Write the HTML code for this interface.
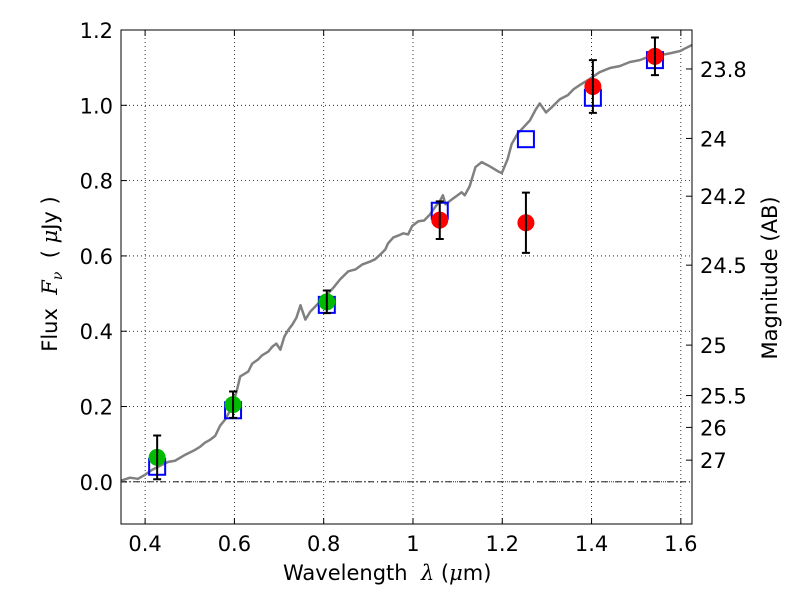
<!DOCTYPE html>
<html><head><meta charset="utf-8"><style>body{margin:0;background:#fff}svg{display:block}text{font-family:"DejaVu Sans","Liberation Sans",sans-serif}</style></head>
<body>
<svg id="chart" width="800" height="600"></svg>
<script>
const specX=[0.346,0.366,0.384,0.4,0.416,0.434,0.452,0.467,0.49,0.512,0.523,0.534,0.546,0.557,0.568,0.579,0.595,0.606,0.613,0.62,0.631,0.64,0.653,0.662,0.676,0.685,0.694,0.703,0.712,0.721,0.73,0.739,0.748,0.759,0.77,0.788,0.806,0.822,0.837,0.855,0.871,0.886,0.904,0.915,0.927,0.938,0.944,0.956,0.967,0.978,0.989,0.998,1.012,1.025,1.038,1.051,1.06,1.067,1.073,1.087,1.1,1.109,1.116,1.127,1.14,1.154,1.172,1.19,1.199,1.212,1.221,1.235,1.244,1.262,1.275,1.284,1.298,1.311,1.329,1.347,1.36,1.374,1.396,1.418,1.441,1.463,1.486,1.508,1.53,1.553,1.575,1.598,1.611,1.625];
const specY=[0.003,0.011,0.008,0.019,0.032,0.043,0.053,0.056,0.072,0.085,0.093,0.104,0.112,0.122,0.149,0.165,0.199,0.245,0.28,0.285,0.293,0.314,0.325,0.336,0.346,0.359,0.367,0.351,0.386,0.404,0.418,0.436,0.469,0.431,0.452,0.474,0.495,0.516,0.538,0.559,0.564,0.577,0.585,0.591,0.604,0.617,0.633,0.649,0.654,0.66,0.657,0.679,0.692,0.694,0.71,0.732,0.745,0.761,0.737,0.75,0.761,0.769,0.761,0.785,0.836,0.849,0.838,0.825,0.82,0.857,0.897,0.926,0.937,0.96,0.989,1.005,0.981,0.995,1.016,1.027,1.043,1.054,1.07,1.088,1.099,1.104,1.115,1.12,1.13,1.133,1.138,1.144,1.152,1.16];
const obsX=[0.427,0.597,0.807,1.06,1.253,1.403,1.542];
const obsY=[0.065,0.205,0.478,0.695,0.688,1.05,1.13];
const obsErr=[0.058,0.035,0.03,0.05,0.08,0.07,0.05];
const obsColor=["#00bb00","#00bb00","#00bb00","red","red","red","red"];
const modelY=[0.04,0.19,0.47,0.72,0.91,1.02,1.12];
const xTicks=[0.4,0.6,0.8,1.0,1.2,1.4,1.6];
const xTickLabels=["0.4","0.6","0.8","1","1.2","1.4","1.6"];
const yTicks=[0,0.2,0.4,0.6,0.8,1.0,1.2];
const yTickLabels=["0.0","0.2","0.4","0.6","0.8","1.0","1.2"];
const magTicks=[23.8,24,24.2,24.5,25,25.5,26,27];
const magLabels=["23.8","24","24.2","24.5","25","25.5","26","27"];

const L=121,R=692,T=30,B=524,x0=0.346,x1=1.625,y0=-0.112,y1=1.2;
const sx=v=>L+(v-x0)/(x1-x0)*(R-L);
const sy=v=>B-(v-y0)/(y1-y0)*(B-T);
const svg=document.getElementById('chart');
const NS='http://www.w3.org/2000/svg';
function mk(tag,attrs,parent){const e=document.createElementNS(NS,tag);for(const k in attrs)e.setAttribute(k,attrs[k]);(parent||svg).appendChild(e);return e;}

xTicks.forEach((v,i)=>{
  const g=mk('line',{x1:sx(v),x2:sx(v),y1:T,y2:B,stroke:'#000','stroke-width':0.8,'stroke-dasharray':'1,3'});
  
  
  mk('line',{x1:sx(v),x2:sx(v),y1:B,y2:B-6,stroke:'#000'});
  mk('line',{x1:sx(v),x2:sx(v),y1:T,y2:T+6,stroke:'#000'});
  const t=mk('text',{x:sx(v),y:B+27,'font-size':21,'text-anchor':'middle'});t.textContent=xTickLabels[i];
  
  
});
yTicks.forEach((v,i)=>{
  const g=mk('line',{x1:L,x2:R,y1:sy(v),y2:sy(v),stroke:'#000','stroke-width':0.8,'stroke-dasharray':'1,3'});
  
  
  mk('line',{x1:L,x2:L+6,y1:sy(v),y2:sy(v),stroke:'#000'});
  const t=mk('text',{x:L-8,y:sy(v)+8,'font-size':21,'text-anchor':'end'});t.textContent=yTickLabels[i];
  
  
});
const z=mk('line',{x1:L,x2:R,y1:sy(0),y2:sy(0),stroke:'#000','stroke-width':0.8,'stroke-dasharray':'6,3,1,3'});


magTicks.forEach((m,i)=>{
  const f=Math.pow(10,(23.9-m)/2.5);
  mk('line',{x1:R,x2:R-6,y1:sy(f),y2:sy(f),stroke:'#000'});
  const t=mk('text',{x:R+8,y:sy(f)+8,'font-size':21});t.textContent=magLabels[i];
  
  
});
const pts=specX.map((v,i)=>sx(v)+','+sy(specY[i])).join(' ');
const sp=mk('polyline',{points:pts,fill:'none',stroke:'#808080','stroke-width':2.5,'stroke-linejoin':'round'});


obsX.forEach((v,i)=>{
  const r=mk('rect',{x:sx(v)-8,y:sy(modelY[i])-8,width:16,height:16,fill:'none',stroke:'#0000ff','stroke-width':2});
  
  
});
obsX.forEach((v,i)=>{
  const c=mk('circle',{cx:sx(v),cy:sy(obsY[i]),r:8.5,fill:obsColor[i]});
  
  
  const x=sx(v),a=sy(obsY[i]+obsErr[i]),b=sy(obsY[i]-obsErr[i]);
  const e=mk('path',{d:`M${x},${a}V${b}M${x-4},${a}H${x+4}M${x-4},${b}H${x+4}`,stroke:'#000','stroke-width':2,fill:'none'});
  
  
});
const fr=mk('rect',{x:L,y:T,width:R-L,height:B-T,fill:'none',stroke:'#000','stroke-width':1});


</script>
<div style="position:absolute;left:0;top:0;width:800px;height:600px;pointer-events:none">
<div style="position:absolute;left:283px;top:561px;font:21px 'DejaVu Sans',sans-serif;white-space:nowrap">Wavelength&nbsp; <i style="font-family:'DejaVu Serif','Liberation Serif',serif">λ</i> (<i style="font-family:'DejaVu Serif','Liberation Serif',serif">μ</i>m)</div>
<div style="position:absolute;left:52px;top:274px;transform:translate(-50%,-50%) rotate(-90deg);white-space:nowrap;font:21px 'DejaVu Sans',sans-serif">Flux&nbsp; <i style="font-family:'DejaVu Serif','Liberation Serif',serif">F<sub style="font-size:14px">ν</sub></i>&nbsp; ( <i style="font-family:'DejaVu Serif','Liberation Serif',serif">μ</i>Jy )</div>
<div style="position:absolute;left:770px;top:278px;transform:translate(-50%,-50%) rotate(-90deg);white-space:nowrap;font:21px 'DejaVu Sans',sans-serif">Magnitude (AB)</div>
</div>
</body></html>
